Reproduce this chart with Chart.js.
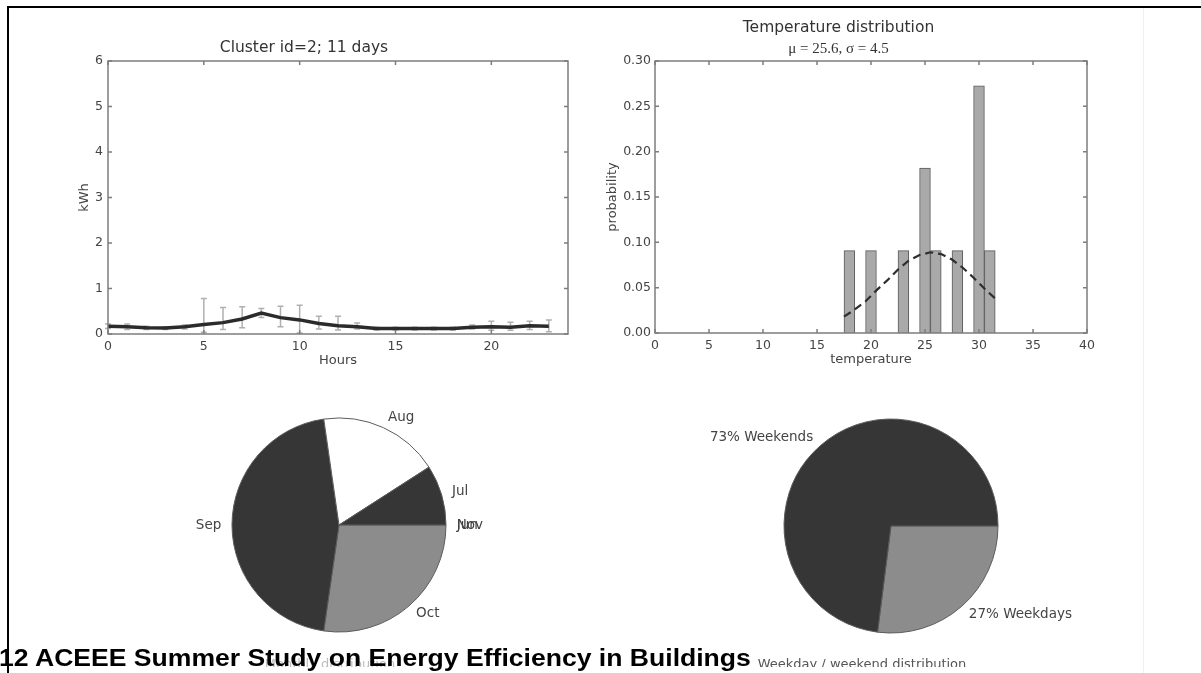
<!DOCTYPE html>
<html>
<head>
<meta charset="utf-8">
<title>Cluster profile</title>
<script src="https://cdn.jsdelivr.net/npm/chart.js@4.4.0/dist/chart.umd.min.js"></script>
<style>
  html, body { margin: 0; padding: 0; background: #fff; }
  body { width: 1201px; height: 673px; position: relative; overflow: hidden; font-family: "DejaVu Sans", sans-serif; }
  .panel { position: absolute; }
  #borderTop { position: absolute; left: 7px; top: 6px; width: 1194px; height: 2px; background: #000; }
  #borderLeft { position: absolute; left: 7px; top: 6px; width: 2px; height: 667px; background: #000; }
  #faintLine { position: absolute; left: 1143px; top: 8px; width: 1px; height: 665px; background: #f1f1f1; }
  .caption { position: absolute; top: 656px; height: 11px; overflow: hidden; font-size: 13px; line-height: 16px; white-space: nowrap; transform: translateX(-50%); }
  #banner { position: absolute; left: -1px; top: 647px; font-family: "Liberation Sans", Arial, sans-serif; font-weight: bold; font-size: 23px; line-height: 23px; color: #000; white-space: nowrap; z-index: 5; transform: scaleX(1.155); transform-origin: left top; }
</style>
</head>
<body>
<div id="borderTop"></div>
<div id="borderLeft"></div>
<div id="faintLine"></div>

<div class="panel" style="left:40px;top:0;width:560px;height:380px"><canvas id="loadChart"></canvas></div>
<div class="panel" style="left:590px;top:0;width:560px;height:380px"><canvas id="tempChart"></canvas></div>
<div class="panel" style="left:139px;top:375px;width:400px;height:300px"><canvas id="monthPie"></canvas></div>
<div class="panel" style="left:691px;top:376px;width:400px;height:300px"><canvas id="weekPie"></canvas></div>

<div class="caption" style="left:330px;color:#bdbdbd">Monthly distribution</div>
<div class="caption" style="left:862px;color:#555">Weekday / weekend distribution</div>
<div id="banner">12 ACEEE Summer Study on Energy Efficiency in Buildings</div>

<script>
// hourly load profile of the cluster
const hours = [0, 1, 2, 3, 4, 5, 6, 7, 8, 9, 10, 11, 12, 13, 14, 15, 16, 17, 18, 19, 20, 21, 22, 23];
const meanKwh = [0.17, 0.16, 0.14, 0.13, 0.16, 0.21, 0.25, 0.33, 0.46, 0.36, 0.31, 0.23, 0.18, 0.16, 0.12, 0.12, 0.12, 0.12, 0.12, 0.15, 0.16, 0.15, 0.18, 0.17];
const errLow = [0.12, 0.10, 0.10, 0.10, 0.11, 0.04, 0.10, 0.14, 0.36, 0.16, 0.02, 0.11, 0.09, 0.11, 0.09, 0.09, 0.09, 0.09, 0.09, 0.11, 0.08, 0.08, 0.10, 0.05];
const errHigh = [0.22, 0.22, 0.17, 0.16, 0.20, 0.78, 0.58, 0.60, 0.56, 0.61, 0.63, 0.39, 0.39, 0.24, 0.15, 0.15, 0.15, 0.15, 0.15, 0.20, 0.28, 0.26, 0.28, 0.31];

// temperature histogram (bin centres, width 1)
const tempBins = [18, 20, 23, 25, 26, 28, 30, 31];
const tempProb = [0.0909, 0.0909, 0.0909, 0.1818, 0.0909, 0.0909, 0.2727, 0.0909];
// fitted normal curve read at the bin edges
const curveTemp = [17.5, 18.5, 19.5, 20.5, 21.5, 22.5, 23.5, 24.5, 25.5, 26.5, 27.5, 28.5, 29.5, 30.5, 31.5];
const curveProb = [0.018, 0.026, 0.035, 0.047, 0.058, 0.070, 0.080, 0.086, 0.089, 0.087, 0.081, 0.072, 0.061, 0.049, 0.038];

// month pie (counter-clockwise from the right, like matplotlib)
const months = ["Jun", "Jul", "Aug", "Sep", "Oct", "Nov"];
const monthDays = [0, 1, 2, 5, 3, 0];
const monthColors = ["#363636", "#363636", "#ffffff", "#363636", "#8c8c8c", "#363636"];

// weekday / weekend pie
const dayTypes = ["Weekends", "Weekdays"];
const dayShare = [73, 27];
const dayColors = ["#363636", "#8c8c8c"];

const FONT = "'DejaVu Sans', sans-serif";
const TEXT = "#444";
const tickFont = { family: FONT, size: 12.5 };
const labelFont = { family: FONT, size: 13 };
const titleFont = { family: FONT, size: 15.5, weight: "normal" };

// matplotlib-like box with inward ticks on all sides
const mplFrame = {
  id: "mplFrame",
  afterDatasetsDraw(chart) {
    const { ctx, chartArea: a, scales } = chart;
    ctx.save();
    ctx.strokeStyle = "#7d7d7d";
    ctx.lineWidth = 1.5;
    ctx.beginPath();
    scales.x.ticks.forEach((t) => {
      const px = scales.x.getPixelForValue(t.value);
      ctx.moveTo(px, a.bottom); ctx.lineTo(px, a.bottom - 4);
      ctx.moveTo(px, a.top); ctx.lineTo(px, a.top + 4);
    });
    scales.y.ticks.forEach((t) => {
      const py = scales.y.getPixelForValue(t.value);
      ctx.moveTo(a.left, py); ctx.lineTo(a.left + 4, py);
      ctx.moveTo(a.right, py); ctx.lineTo(a.right - 4, py);
    });
    ctx.stroke();
    ctx.strokeRect(a.left, a.top, a.width, a.height);
    ctx.restore();
  }
};

// grey error bars under the mean line
const errorBars = {
  id: "errorBars",
  beforeDatasetsDraw(chart) {
    const { ctx, scales } = chart;
    ctx.save();
    ctx.strokeStyle = "#b0b0b0";
    ctx.lineWidth = 1.5;
    ctx.beginPath();
    hours.forEach((h, i) => {
      const px = scales.x.getPixelForValue(h);
      const top = scales.y.getPixelForValue(errHigh[i]);
      const bot = scales.y.getPixelForValue(errLow[i]);
      ctx.moveTo(px, top); ctx.lineTo(px, bot);
      ctx.moveTo(px - 3, top); ctx.lineTo(px + 3, top);
      ctx.moveTo(px - 3, bot); ctx.lineTo(px + 3, bot);
    });
    ctx.stroke();
    ctx.restore();
  }
};

// pie labels at 1.1 r, aligned away from the centre
const pieLabels = {
  id: "pieLabels",
  afterDatasetsDraw(chart) {
    const { ctx } = chart;
    const arcs = chart.getDatasetMeta(0).data;
    ctx.save();
    ctx.font = "13.5px " + FONT;
    ctx.fillStyle = TEXT;
    ctx.textBaseline = "middle";
    arcs.forEach((arc, i) => {
      const { x, y, startAngle, endAngle, outerRadius } = arc.getProps(["x", "y", "startAngle", "endAngle", "outerRadius"], true);
      const mid = (startAngle + endAngle) / 2;
      const lx = x + Math.cos(mid) * outerRadius * 1.1;
      const ly = y + Math.sin(mid) * outerRadius * 1.1;
      ctx.textAlign = Math.cos(mid) >= -1e-6 ? "left" : "right";
      ctx.fillText(chart.data.labels[i], lx, ly);
    });
    ctx.restore();
  }
};

new Chart(document.getElementById("loadChart"), {
  type: "line",
  data: {
    datasets: [{
      data: hours.map((h, i) => ({ x: h, y: meanKwh[i] })),
      borderColor: "#2b2b2b",
      borderWidth: 3.5,
      pointRadius: 0,
      tension: 0
    }]
  },
  options: {
    animation: false,
    responsive: true,
    maintainAspectRatio: false,
    layout: { padding: { left: 0, right: 32, top: 0, bottom: 0 } },
    plugins: {
      legend: { display: false },
      tooltip: { enabled: false },
      title: {
        display: true,
        text: "Cluster id=2; 11 days",
        color: "#333",
        font: titleFont,
        padding: { top: 38.7, bottom: 3.7 }
      }
    },
    scales: {
      x: {
        type: "linear", min: 0, max: 24,
        grid: { display: false, drawTicks: false },
        border: { display: false },
        ticks: { stepSize: 5, includeBounds: false, padding: 5, color: TEXT, font: tickFont, maxRotation: 0 },
        title: { display: true, text: "Hours", color: TEXT, font: labelFont, padding: { top: 0, bottom: 11.5 } },
        afterFit(s) { s.height = 46; }
      },
      y: {
        min: 0, max: 6,
        grid: { display: false, drawTicks: false },
        border: { display: false },
        ticks: { stepSize: 1, padding: 5, color: TEXT, font: tickFont },
        title: { display: true, text: "kWh", color: TEXT, font: labelFont, padding: { top: 37.2, bottom: 0 } },
        afterFit(s) { s.width = 68; }
      }
    }
  },
  plugins: [errorBars, mplFrame]
});

new Chart(document.getElementById("tempChart"), {
  type: "bar",
  data: {
    datasets: [{
      type: "line",
      data: curveTemp.map((t, i) => ({ x: t, y: curveProb[i] })),
      borderColor: "#2e2e2e",
      borderWidth: 2.2,
      borderDash: [8, 5],
      pointRadius: 0,
      tension: 0,
      order: 0
    }, {
      type: "bar",
      data: tempBins.map((t, i) => ({ x: t, y: tempProb[i] })),
      backgroundColor: "#a9a9a9",
      borderColor: "#5a5a5a",
      borderWidth: 1,
      categoryPercentage: 1,
      barPercentage: 1,
      order: 1
    }]
  },
  options: {
    animation: false,
    responsive: true,
    maintainAspectRatio: false,
    layout: { padding: { left: 0, right: 63, top: 0, bottom: 0 } },
    plugins: {
      legend: { display: false },
      tooltip: { enabled: false },
      title: {
        display: true,
        text: "Temperature distribution",
        color: "#333",
        font: titleFont,
        padding: { top: 18.7, bottom: 0 }
      },
      subtitle: {
        display: true,
        text: "\u03bc = 25.6, \u03c3 = 4.5",
        color: "#333",
        font: { family: "'Liberation Serif', serif", size: 15 },
        padding: { top: 3.2, bottom: 2.5 }
      }
    },
    scales: {
      x: {
        type: "linear", min: 0, max: 40, offset: false,
        grid: { display: false, drawTicks: false, offset: false },
        border: { display: false },
        ticks: { stepSize: 5, padding: 5, color: TEXT, font: tickFont, maxRotation: 0 },
        title: { display: true, text: "temperature", color: TEXT, font: labelFont, padding: { top: 0, bottom: 12.9 } },
        afterFit(s) { s.height = 47; }
      },
      y: {
        min: 0, max: 0.3,
        grid: { display: false, drawTicks: false },
        border: { display: false },
        ticks: { stepSize: 0.05, padding: 4, color: TEXT, font: tickFont, callback: (v) => v.toFixed(2) },
        title: { display: true, text: "probability", color: TEXT, font: labelFont, padding: { top: 15.2, bottom: 0 } },
        afterFit(s) { s.width = 65; }
      }
    }
  },
  plugins: [mplFrame]
});

// Chart.js draws clockwise, so reverse to get matplotlib's counter-clockwise order
function pieChart(id, labels, values, colors) {
  return new Chart(document.getElementById(id), {
    type: "pie",
    data: {
      labels: labels.slice().reverse(),
      datasets: [{
        data: values.slice().reverse(),
        backgroundColor: colors.slice().reverse(),
        borderColor: "#5c5c5c",
        borderWidth: 1
      }]
    },
    options: {
      animation: false,
      responsive: true,
      maintainAspectRatio: false,
      rotation: 90,
      radius: 107,
      layout: { padding: { left: 80, right: 80, top: 30, bottom: 30 } },
      plugins: { legend: { display: false }, tooltip: { enabled: false } }
    },
    plugins: [pieLabels]
  });
}

pieChart("monthPie", months, monthDays, monthColors);
pieChart("weekPie", dayTypes.map((d, i) => dayShare[i] + "% " + d), dayShare, dayColors);
</script>
</body>
</html>
